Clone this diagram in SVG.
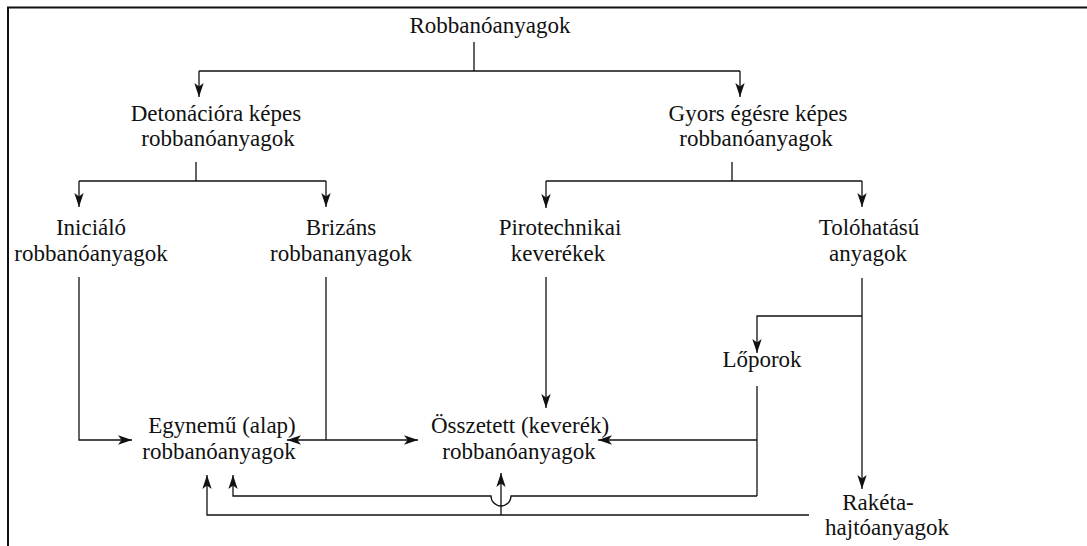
<svg xmlns="http://www.w3.org/2000/svg" width="1087" height="546" viewBox="0 0 1087 546">
<style>
text{font-family:"Liberation Serif","Times New Roman",serif;font-size:23px;fill:#111;text-anchor:middle}
.c{fill:none;stroke:#111;stroke-width:1.3}
.a{marker-end:url(#ah)}
.b{marker-start:url(#ah);marker-end:url(#ah)}
</style>
<defs>
<marker id="ah" markerUnits="userSpaceOnUse" markerWidth="14" markerHeight="10" refX="12" refY="4" orient="auto-start-reverse" viewBox="0 0 12 8">
<path d="M0,0 L12,4 L0,8 L3,4 Z" fill="#111"/>
</marker>
</defs>
<rect x="8" y="7.5" width="1100" height="560" fill="#fff" stroke="#111" stroke-width="2"/>
<g id="connectors">
<path class="c" d="M474,42 V71 M199,71 H740"/>
<path class="c a" d="M199,71 V97"/>
<path class="c a" d="M740,71 V97"/>
<path class="c" d="M196,162 V181 M79,181 H326"/>
<path class="c a" d="M79,181 V207"/>
<path class="c a" d="M326,181 V207"/>
<path class="c" d="M732,162 V181 M546,181 H862"/>
<path class="c a" d="M546,181 V208"/>
<path class="c a" d="M862,181 V207"/>
<path class="c a" d="M79,277 V440 H132"/>
<path class="c" d="M326,277 V440"/>
<path class="c b" d="M287,440 H418"/>
<path class="c a" d="M546,277 V408"/>
<path class="c a" d="M862,278 V489"/>
<path class="c a" d="M862,316 H757 V353"/>
<path class="c" d="M757,386 V496"/>
<path class="c a" d="M757,440 H598"/>
<path class="c a" d="M757,496 H511 A10,10 0 0 1 491,496 H233 V475"/>
<path class="c a" d="M809,515 H207 V475"/>
<path class="c a" d="M501,515 V473"/>
</g>
<g id="n-root"><text x="490" y="33">Robbanóanyagok</text></g>
<g id="n-deton"><text x="216" y="121">Detonációra képes</text><text x="218" y="146">robbanóanyagok</text></g>
<g id="n-gyors"><text x="758" y="121">Gyors égésre képes</text><text x="756" y="146">robbanóanyagok</text></g>
<g id="n-inic"><text x="91" y="235">Iniciáló</text><text x="91" y="261">robbanóanyagok</text></g>
<g id="n-briz"><text x="341" y="235">Brizáns</text><text x="341" y="261">robbananyagok</text></g>
<g id="n-piro"><text x="560" y="235">Pirotechnikai</text><text x="558" y="261">keverékek</text></g>
<g id="n-tolo"><text x="869" y="235">Tolóhatású</text><text x="868" y="261">anyagok</text></g>
<g id="n-lopor"><text x="762" y="367">Lőporok</text></g>
<g id="n-egyn"><text x="222" y="433">Egynemű (alap)</text><text x="219" y="459">robbanóanyagok</text></g>
<g id="n-ossz"><text x="520" y="433">Összetett (keverék)</text><text x="519" y="459">robbanóanyagok</text></g>
<g id="n-raketa"><text x="878" y="510">Rakéta-</text><text x="887" y="535">hajtóanyagok</text></g>
</svg>
